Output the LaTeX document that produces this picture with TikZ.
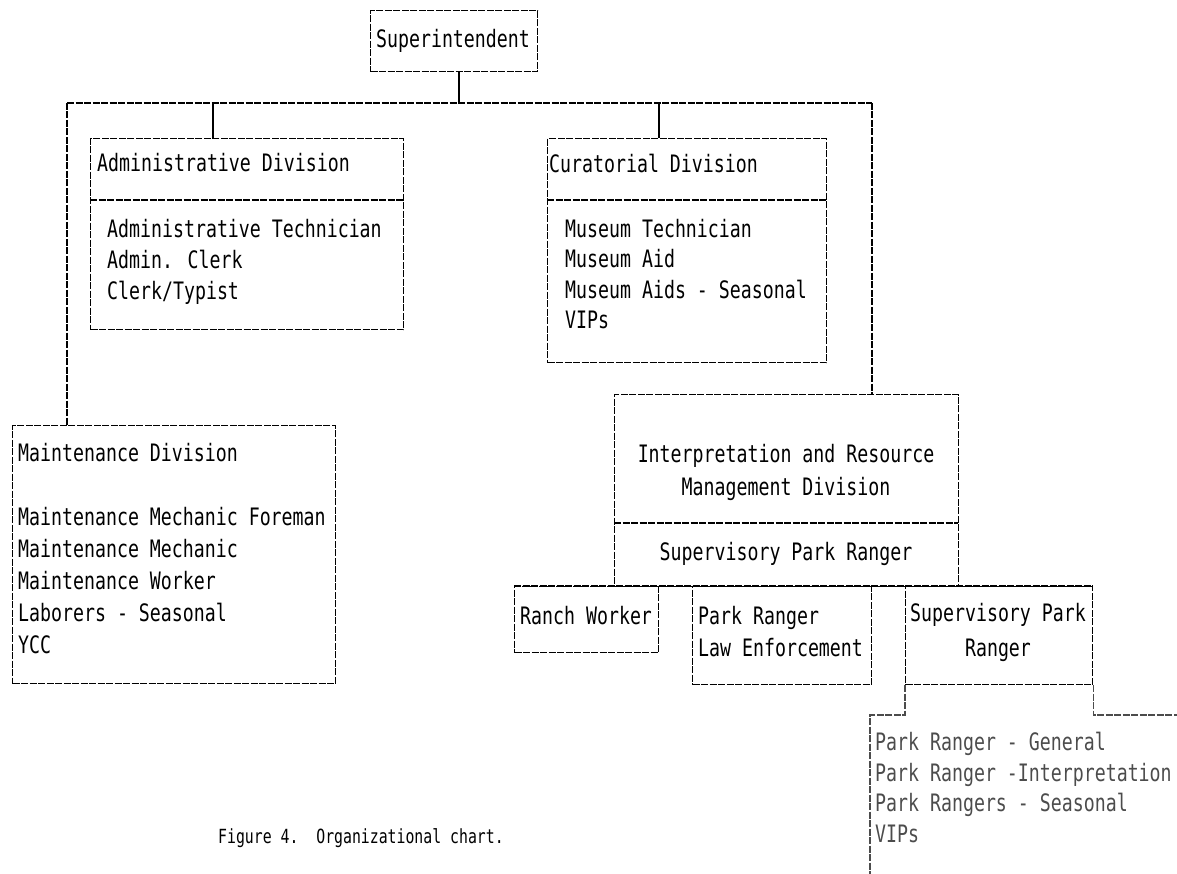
\documentclass[tikz,border=0pt]{standalone}
\usepackage{fontspec}
\newfontfamily\dotfont[FakeStretch=0.76]{DejaVu Sans Mono}
\begin{document}
\begin{tikzpicture}[x=1pt,y=-1pt,
  ln/.style={line width=1.2pt, dash pattern=on 7pt off 1.5pt},
  conn/.style={line width=1.3pt},
  boxx/.style={draw, ln, rectangle, inner sep=0pt, anchor=north west},
  txt/.style={font=\dotfont\fontsize{24pt}{31pt}\selectfont, inner sep=0pt, anchor=base west},
  ctxt/.style={txt, anchor=base},
  faint/.style={black!70},
  captxt/.style={font=\dotfont\fontsize{19.5pt}{24pt}\selectfont, inner sep=0pt, anchor=base west}]
\useasboundingbox (0,0) rectangle (1177,874);

% boxes
\node[boxx, minimum width=167pt, minimum height=61pt] (sup) at (370,10) {};
\node[boxx, minimum width=313pt, minimum height=191pt] (adm) at (90,138) {};
\node[boxx, minimum width=279pt, minimum height=224pt] (cur) at (547,138) {};
\node[boxx, minimum width=323pt, minimum height=258pt] (maint) at (12,425) {};
\node[boxx, minimum width=344pt, minimum height=192pt] (interp) at (614,394) {};
\node[boxx, minimum width=144pt, minimum height=66pt] (ranch) at (514,586) {};
\node[boxx, minimum width=179pt, minimum height=98pt] (prle) at (692,586) {};
\node[boxx, minimum width=187pt, minimum height=98pt] (spr) at (905,586) {};

% dividers
\draw[ln] (90,200) -- (403,200);
\draw[ln] (547,200) -- (826,200);
\draw[ln] (614,523) -- (958,523);

% connectors
\coordinate (busL) at (67,103);
\coordinate (busR) at (872,103);
\coordinate (bS) at (459,103);
\coordinate (bA) at (213,103);
\coordinate (bC) at (659,103);
\draw[conn] (bS |- sup.south) -- (bS);
\draw[ln] (busL) -- (busR);
\draw[conn] (bA) -- (bA |- adm.north);
\draw[conn] (bC) -- (bC |- cur.north);
\draw[ln] (busL) -- (busL |- maint.north);
\draw[ln] (busR) -- (busR |- interp.north);
\draw[ln] (ranch.north west) -- (spr.north east);

% lower list box
\coordinate (listTL) at (870,715);
\coordinate (listBL) at (870,874);
\coordinate (listTR) at (1177,715);
\draw[ln, faint] (spr.south west) -- (spr.south west |- listTL) -- (listTL) -- (listBL);
\draw[ln, faint] (spr.south east) -- (spr.south east |- listTR) -- (listTR);

% texts
\node[ctxt] (tsup) at (453,48) {Superintendent};

\node[txt] (tadm) at (97,172) {Administrative Division};
\node[txt] (tadm1) at (107,238) {Administrative Technician};
\node[txt] (tadm2) at (107,269) {Admin. Clerk};
\node[txt] (tadm3) at (107,300) {Clerk/Typist};

\node[txt] (tcur) at (549,173) {Curatorial Division};
\node[txt] (tcur1) at (565,238) {Museum Technician};
\node[txt] (tcur2) at (565,268) {Museum Aid};
\node[txt] (tcur3) at (565,299) {Museum Aids - Seasonal};
\node[txt] (tcur4) at (565,329) {VIPs};

\node[txt] (tm) at (18,461) {Maintenance Division};
\node[txt] (tm1) at (18,525) {Maintenance Mechanic Foreman};
\node[txt] (tm2) at (18,557) {Maintenance Mechanic};
\node[txt] (tm3) at (18,589) {Maintenance Worker};
\node[txt] (tm4) at (18,621) {Laborers - Seasonal};
\node[txt] (tm5) at (18,653) {YCC};

\node[ctxt] (ti1) at (786,462) {Interpretation and Resource};
\node[ctxt] (ti2) at (786,495) {Management Division};
\node[ctxt] (ti3) at (786,560) {Supervisory Park Ranger};

\node[txt] (tr) at (520,624) {Ranch Worker};
\node[txt] (tp1) at (698,624) {Park Ranger};
\node[txt] (tp2) at (698,656) {Law Enforcement};
\node[ctxt] (ts1) at (998,621) {Supervisory Park};
\node[ctxt] (ts2) at (998,656) {Ranger};

\node[txt, faint] (tl1) at (875,750) {Park Ranger - General};
\node[txt, faint] (tl2) at (875,781) {Park Ranger -Interpretation};
\node[txt, faint] (tl3) at (875,811) {Park Rangers - Seasonal};
\node[txt, faint] (tl4) at (875,842) {VIPs};

\node[captxt] (cap) at (218,843) {Figure 4.\ \ Organizational chart.};
\end{tikzpicture}
\end{document}
